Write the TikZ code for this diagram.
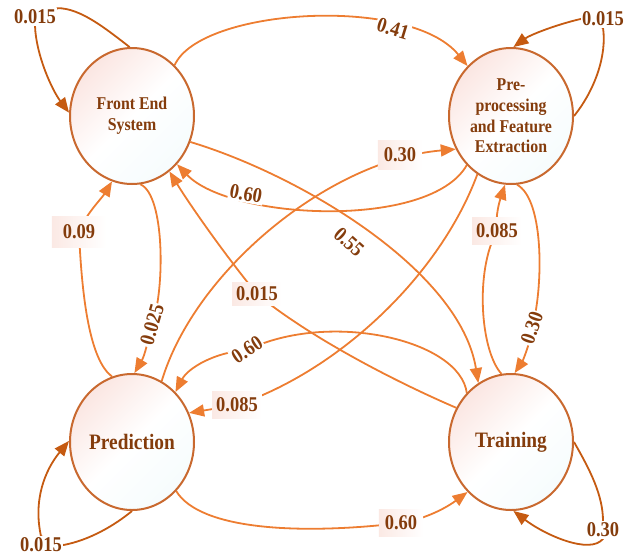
\documentclass[tikz,border=0pt]{standalone}
\usepackage{fontspec}
\setmainfont{Liberation Serif}[FakeStretch=0.88]
\usetikzlibrary{arrows.meta,shapes.geometric}
\definecolor{edgeor}{HTML}{ED7D31}
\definecolor{loopor}{HTML}{C55A11}
\definecolor{ringor}{HTML}{C9692F}
\definecolor{txtbr}{HTML}{843C0C}
\definecolor{fillpk}{HTML}{FBE6E2}
\definecolor{fillcy}{HTML}{F6FCFD}
\definecolor{boxpk}{HTML}{FBE9E4}
\pgfdeclarelayer{edges}
\pgfsetlayers{edges,main}
\begin{document}
\begin{tikzpicture}[x=1pt,y=-1pt,
  state/.style={ellipse, draw=ringor, line width=2pt, minimum width=124pt,
    minimum height=136pt, inner sep=0pt, top color=fillpk, bottom color=fillcy,
    middle color=white, shading angle=45, text=txtbr, align=center,
    font=\bfseries\fontsize{18}{20.7}\selectfont},
  bigstate/.style={state, font=\bfseries\fontsize{22}{24}\selectfont},
  prob/.style={text=txtbr, font=\bfseries\fontsize{21}{24}\selectfont,
    fill=white, inner sep=1.5pt},
  probbox/.style={prob, left color=boxpk, right color=white,
    inner xsep=6pt, inner ysep=6pt},
  flow/.style={draw=edgeor, line width=1.8pt,
    -{Triangle[length=15pt,width=12pt]}},
  selfflow/.style={flow, draw=loopor},
]
\useasboundingbox (0,0) rectangle (639,555);

% states
\node[state] (fes) at (132,116) {Front End\\System};
\node[state] (pre) at (511,116) {Pre-\\processing\\and Feature\\Extraction};
\node[bigstate] (pred) at (132,442) {Prediction};
\node[bigstate] (train) at (511,442) {Training};

% transition probabilities
\node[prob] (lA) at (35,17) {0.015};
\node[prob, rotate=-17] (lB) at (393,29) {0.41};
\node[prob, rotate=-10] (lC) at (246,194) {0.60};
\node[prob, rotate=-42] (lD) at (349,242) {0.55};
\node[probbox, inner ysep=7pt] (lE) at (400,155) {0.30};
\node[probbox, inner xsep=4pt, inner ysep=4pt] (lF) at (257,294) {0.015};
\node[probbox, inner xsep=4pt] (lG) at (237,405) {0.085};
\node[prob, rotate=74] (lH) at (152,325) {0.025};
\node[probbox, inner xsep=11pt, inner ysep=8pt] (lI) at (79,232) {0.09};
\node[prob, rotate=71] (lJ) at (532,328) {0.30};
\node[probbox, inner xsep=4pt] (lK) at (497,231) {0.085};
\node[probbox] (lL) at (401,523) {0.60};
\node[prob] (lM) at (603,19) {0.015};
\node[prob] (lN) at (603,530) {0.30};
\node[prob] (lO) at (41,545) {0.015};
\node[prob, rotate=33] (lP) at (247,350) {0.60};

% transitions
\begin{pgfonlayer}{edges}
\draw[selfflow] (fes.92) .. controls (105,28) and (80,8) .. (lA.north east)
  -- (lA.south) .. controls (36,55) and (52,90) .. (fes.177);
\draw[flow] (fes.50) .. controls (200,8) and (410,-5) .. (pre.131);
\draw[flow] (pre.228) .. controls (430,230) and (230,220) .. (fes.313);
\draw[flow] (fes.336) .. controls (300,175) and (460,270) .. (train.119);
\draw[flow] (pred.64) .. controls (195,270) and (330,160) .. (pre.211);
\draw[flow] (train.148) .. controls (380,375) and (300,330) .. (lF.center)
  .. controls (225,255) and (190,205) .. (fes.304);
\draw[flow] (pre.240) .. controls (440,275) and (340,370) .. (lG.center) -- (pred.27);
\draw[flow] (fes.277) .. controls (165,195) and (165,290) .. (lH.center)
  .. controls (148,340) and (145,355) .. (pred.88);
\draw[flow] (pred.107) .. controls (90,360) and (82,300) .. (lI.center)
  .. controls (85,215) and (102,198) .. (fes.253);
\draw[flow] (pre.275) .. controls (545,200) and (543,290) .. (lJ.center)
  .. controls (530,345) and (522,362) .. (train.87);
\draw[flow] (train.98) .. controls (480,350) and (475,270) .. (lK.center)
  .. controls (495,215) and (500,200) .. (pre.265);
\draw[flow] (pred.312) .. controls (200,530) and (300,535) .. (lL.center)
  .. controls (430,518) and (450,505) .. (train.229);
\draw[flow] (train.132) .. controls (460,340) and (330,310) .. (lP.center)
  .. controls (215,352) and (188,368) .. (pred.49);
\draw[selfflow] (pre.0) .. controls (595,90) and (607,55) .. (lM.south)
  -- (lM.west) .. controls (555,25) and (530,35) .. (pre.88);
\draw[selfflow] (train.0) .. controls (590,470) and (603,495) .. (lN.north)
  -- (lN.south) .. controls (590,555) and (545,535) .. (train.272);
\draw[selfflow] (pred.270) .. controls (115,525) and (90,540) .. (lO.east)
  -- (lO.north) .. controls (33,500) and (45,470) .. (pred.179);
\end{pgfonlayer}
\end{tikzpicture}
\end{document}
